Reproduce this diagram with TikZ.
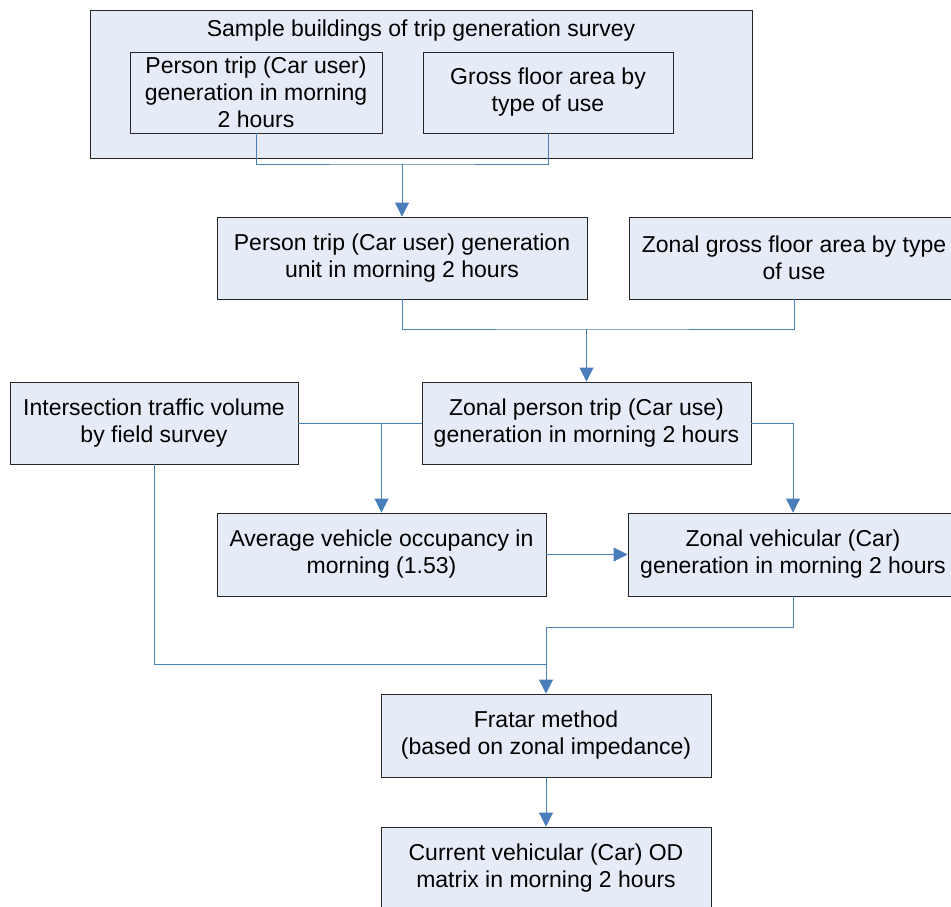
\documentclass[tikz,border=0pt]{standalone}
\usepackage{fontspec}
\setmainfont{Liberation Sans}
\usetikzlibrary{arrows.meta}
\definecolor{boxfill}{HTML}{E6ECF7}
\definecolor{conn}{HTML}{4A7EBB}
\begin{document}
\begin{tikzpicture}[x=1pt,y=-1pt,
  box/.style={draw=black!85, fill=boxfill, line width=0.9pt, align=center, inner sep=0pt, font=\fontsize{23}{27}\selectfont},
  txt/.style={align=center, inner sep=0pt, font=\fontsize{23}{27}\selectfont},
  link/.style={draw=conn, line width=0.9pt},
  arr/.style={link, -{Triangle[length=14pt,width=14pt]}}]
\useasboundingbox (0,0) rectangle (951,907);
\clip (0,0) rectangle (951,907);
\fill[white] (0,0) rectangle (951,907);

\node[box, minimum width=662, minimum height=148] (outer) at (421,84) {};
\node[txt] (title) at (421,31) {Sample buildings of trip generation survey};
\node[box, minimum width=252, minimum height=81] (inL) at (256,92.5) {Person trip (Car user)\\generation in morning\\2 hours};
\node[box, minimum width=250, minimum height=81] (inR) at (548,92.5) {Gross floor area by\\type of use};

\node[box, minimum width=370, minimum height=82] (PTU) at (402,258) {Person trip (Car user) generation\\unit in morning 2 hours};
\node[box, minimum width=330, minimum height=82] (ZGFA) at (794,258) {Zonal gross floor area by type\\of use};

\node[box, minimum width=288, minimum height=82] (ITV) at (154,423) {Intersection traffic volume\\by field survey};
\node[box, minimum width=329, minimum height=82] (ZPT) at (586.5,423) {Zonal person trip (Car use)\\generation in morning 2 hours};

\node[box, minimum width=329, minimum height=83] (AVO) at (381.5,554.5) {Average vehicle occupancy in\\morning (1.53)};
\node[box, minimum width=330, minimum height=83] (ZVG) at (793,554.5) {Zonal vehicular (Car)\\generation in morning 2 hours};

\node[box, minimum width=330, minimum height=83] (FR) at (546,735.5) {Fratar method\\(based on zonal impedance)};
\node[box, minimum width=330, minimum height=83] (CUR) at (546,868.5) {Current vehicular (Car) OD\\matrix in morning 2 hours};

\coordinate (h1) at (0,164);
\coordinate (h2) at (0,329);
\coordinate (h4) at (0,664);
\coordinate (j1) at (PTU.north |- h1);
\coordinate (j2) at (ZPT.north |- h2);
\coordinate (j3) at (AVO.north |- ITV.east);
\coordinate (j4) at (FR.north |- h4);

\draw[link] (inL.south) |- (j1) -| (inR.south);
\draw[arr] (j1) -- (PTU.north);
\draw[link] (PTU.south) |- (j2) -| (ZGFA.south);
\draw[arr] (j2) -- (ZPT.north);
\draw[link] (ITV.east) -- (ZPT.west);
\draw[arr] (j3) -- (AVO.north);
\draw[arr] (ZPT.east) -| (ZVG.north);
\draw[arr] (AVO.east) -- (ZVG.west);
\draw[arr] (ZVG.south) -- ++(0,31) -| (FR.north);
\draw[link] (ITV.south) |- (j4);
\draw[arr] (FR.south) -- (CUR.north);
\end{tikzpicture}
\end{document}
